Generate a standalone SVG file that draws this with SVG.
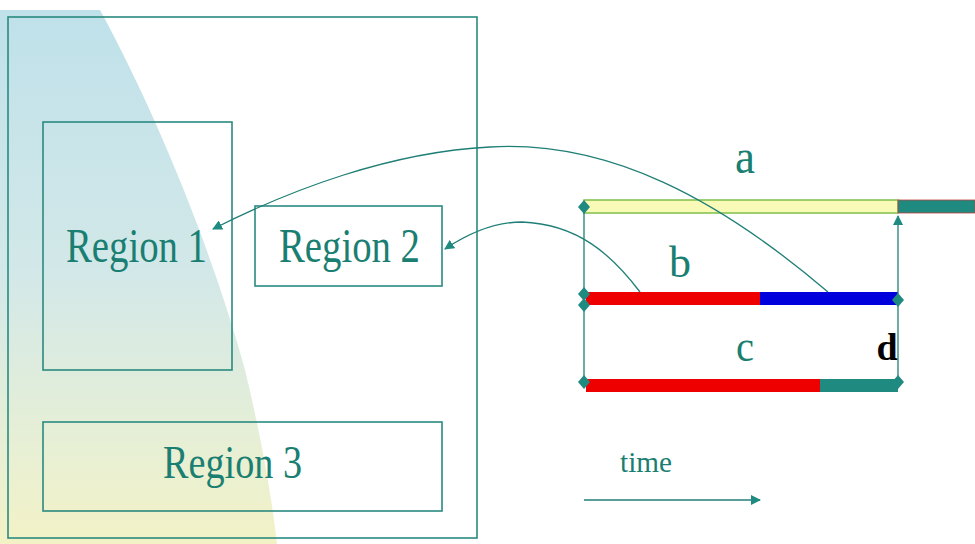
<svg xmlns="http://www.w3.org/2000/svg" width="975" height="544" viewBox="0 0 975 544">
<defs>
<style>
.box{fill:none;stroke:#2a8a80;stroke-width:1.6}
.lbl{font-family:"Liberation Serif",serif;fill:#1a7f72}
.conn{fill:none;stroke:#1f7f76;stroke-width:1.3}
.dia{fill:#1f8a80}
</style>
<linearGradient id="bg" x1="0" y1="0" x2="0" y2="1">
<stop offset="0" stop-color="#bfe1ea"/>
<stop offset="0.5" stop-color="#d3e8e8"/>
<stop offset="0.8" stop-color="#e6efd6"/>
<stop offset="1" stop-color="#f3f2c6"/>
</linearGradient>
<marker id="ah" markerWidth="10" markerHeight="10" refX="9" refY="5" orient="auto" markerUnits="userSpaceOnUse">
<path d="M0,0 L10,5 L0,10 z" fill="#1f8a80"/>
</marker>
</defs>
<rect width="975" height="544" fill="#ffffff"/>
<path d="M0,10 L100,10 C160,120 215,260 245,370 C262,440 272,500 277,544 L0,544 z" fill="url(#bg)"/>
<rect x="8" y="17" width="469" height="521" class="box"/>
<g id="region1">
<rect x="43" y="122" width="189" height="248" class="box"/>
<text x="66" y="262" font-size="48" textLength="141" lengthAdjust="spacingAndGlyphs" class="lbl">Region 1</text>
</g>
<g id="region2">
<rect x="255" y="206" width="187" height="80" class="box"/>
<text x="279" y="262" font-size="48" textLength="141" lengthAdjust="spacingAndGlyphs" class="lbl">Region 2</text>
</g>
<g id="region3">
<rect x="43" y="422" width="399" height="89" class="box"/>
<text x="163" y="478" font-size="47" textLength="139" lengthAdjust="spacingAndGlyphs" class="lbl">Region 3</text>
</g>
<g id="timeline">
<rect x="584" y="200" width="314" height="13" fill="#fafab8" stroke="#7fc04a" stroke-width="1.5"/>
<rect x="898" y="200" width="77" height="13" fill="#1f8a80" stroke="#c04040" stroke-width="0.8"/>
<rect x="586" y="292" width="174" height="13" fill="#ee0000"/>
<rect x="760" y="292" width="138" height="13" fill="#0000dd"/>
<rect x="586" y="379" width="234" height="13" fill="#ee0000"/>
<rect x="820" y="379" width="78" height="13" fill="#1f8a80"/>
<line x1="584" y1="205" x2="584" y2="386" class="conn" stroke-width="1.6"/>
<line x1="898" y1="386" x2="898" y2="216" class="conn" stroke-width="1.6" marker-end="url(#ah)"/>
<path class="dia" d="M584,200 l6,7 l-6,7 l-6,-7 z"/>
<path class="dia" d="M584,287 l6,7 l-6,7 l-6,-7 z"/>
<path class="dia" d="M584,298 l6,7 l-6,7 l-6,-7 z"/>
<path class="dia" d="M584,375 l6,7 l-6,7 l-6,-7 z"/>
<path class="dia" d="M898,293 l6,7 l-6,7 l-6,-7 z"/>
<path class="dia" d="M898,375 l6,7 l-6,7 l-6,-7 z"/>
<text x="745" y="173" font-size="48" textLength="20" lengthAdjust="spacingAndGlyphs" text-anchor="middle" class="lbl">a</text>
<text x="680" y="277" font-size="44" textLength="22" lengthAdjust="spacingAndGlyphs" text-anchor="middle" class="lbl">b</text>
<text x="745" y="361" font-size="44" textLength="18" lengthAdjust="spacingAndGlyphs" text-anchor="middle" class="lbl">c</text>
<text x="887" y="360" font-size="38" font-weight="bold" text-anchor="middle" font-family="Liberation Serif,serif" fill="#000000">d</text>
</g>
<g id="connectors">
<path class="conn" d="M828,292 C720,200 610,140 490,147 C390,152 290,190 213,229" marker-end="url(#ah)"/>
<path class="conn" d="M640,292 C612,255 578,224 522,222 C492,222 466,235 445,249" marker-end="url(#ah)"/>
</g>
<g id="time">
<text x="620" y="472" font-size="30" textLength="52" lengthAdjust="spacingAndGlyphs" class="lbl">time</text>
<line x1="584" y1="500" x2="760" y2="500" class="conn" stroke-width="1.6" marker-end="url(#ah)"/>
</g>
</svg>
